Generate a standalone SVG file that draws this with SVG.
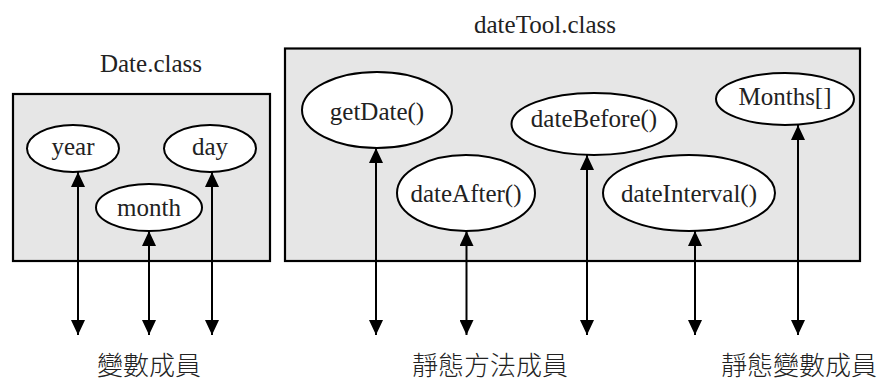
<svg xmlns="http://www.w3.org/2000/svg" width="880" height="381" viewBox="0 0 880 381">
  <style>
    .box { fill: #e6e6e6; stroke: #000; stroke-width: 2.2; }
    .node { fill: #fff; stroke: #000; stroke-width: 2; }
    .lbl { font-family: "Liberation Serif", "Times New Roman", serif; font-size: 25px; fill: #222; text-anchor: middle; }
    .cjk { font-family: "Noto Sans CJK TC", "Noto Sans CJK SC", sans-serif; font-size: 26px; font-weight: 300; fill: #222; text-anchor: middle; }
    .link { stroke: #000; stroke-width: 2; fill: none; marker-start: url(#head); marker-end: url(#head); }
  </style>
  <defs>
    <marker id="head" markerUnits="userSpaceOnUse" viewBox="0 0 15 14" refX="15" refY="7" markerWidth="15" markerHeight="14" orient="auto-start-reverse">
      <path d="M0,0 L15,7 L0,14 z" fill="#000"/>
    </marker>
  </defs>

  <!-- class containers -->
  <g id="date-class">
    <text class="lbl" x="151" y="72">Date.class</text>
    <rect class="box" x="13" y="94" width="257" height="167"/>
  </g>
  <g id="datetool-class">
    <text class="lbl" x="545" y="33">dateTool.class</text>
    <rect class="box" x="285" y="48.5" width="575" height="212.5"/>
  </g>

  <!-- Date.class members -->
  <g id="year">
    <ellipse class="node" cx="73" cy="148.5" rx="46" ry="23.5"/>
    <text class="lbl" x="73" y="155">year</text>
  </g>
  <g id="day">
    <ellipse class="node" cx="210" cy="148.5" rx="46" ry="23.5"/>
    <text class="lbl" x="210" y="155">day</text>
  </g>
  <g id="month">
    <ellipse class="node" cx="149" cy="207.5" rx="53" ry="23.5"/>
    <text class="lbl" x="149" y="216">month</text>
  </g>

  <!-- dateTool.class members -->
  <g id="getDate">
    <ellipse class="node" cx="377" cy="110" rx="75" ry="38"/>
    <text class="lbl" x="377" y="120">getDate()</text>
  </g>
  <g id="dateAfter">
    <ellipse class="node" cx="466" cy="193" rx="69" ry="38"/>
    <text class="lbl" x="466" y="202">dateAfter()</text>
  </g>
  <g id="dateBefore">
    <ellipse class="node" cx="594" cy="124" rx="82.5" ry="31"/>
    <text class="lbl" x="594" y="127">dateBefore()</text>
  </g>
  <g id="dateInterval">
    <ellipse class="node" cx="689" cy="193" rx="86" ry="38"/>
    <text class="lbl" x="689" y="202">dateInterval()</text>
  </g>
  <g id="months">
    <ellipse class="node" cx="785" cy="99" rx="69" ry="26"/>
    <text class="lbl" x="785" y="105">Months[]</text>
  </g>

  <!-- category labels -->
  <g id="labels">
    <text class="cjk" x="149" y="375">變數成員</text>
    <text class="cjk" x="490" y="375">靜態方法成員</text>
    <text class="cjk" x="799" y="375">靜態變數成員</text>
  </g>

  <!-- double-headed connectors -->
  <g id="connectors">
    <line class="link" x1="78" y1="172" x2="78" y2="335"/>
    <line class="link" x1="149" y1="231" x2="149" y2="335"/>
    <line class="link" x1="212" y1="172" x2="212" y2="335"/>
    <line class="link" x1="376" y1="148" x2="376" y2="335"/>
    <line class="link" x1="466.5" y1="231" x2="466.5" y2="335"/>
    <line class="link" x1="587" y1="155" x2="587" y2="335"/>
    <line class="link" x1="695" y1="231" x2="695" y2="335"/>
    <line class="link" x1="798" y1="125" x2="798" y2="335"/>
  </g>
</svg>
